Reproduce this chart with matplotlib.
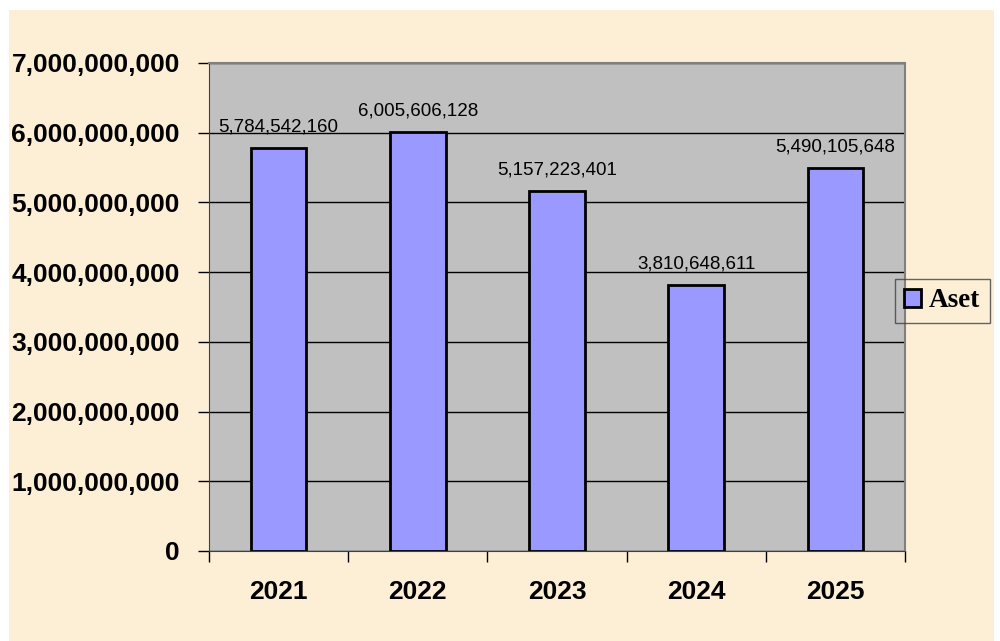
import matplotlib.pyplot as plt
from matplotlib.patches import Rectangle
from matplotlib.ticker import FuncFormatter, MultipleLocator

# data
years = ['2021', '2022', '2023', '2024', '2025']
aset = [5784542160, 6005606128, 5157223401, 3810648611, 5490105648]

fig = plt.figure(figsize=(10, 6.41), dpi=100)
fig.patch.set_facecolor('white')
# parchment background
fig.patches.append(Rectangle((0.009, 0), 0.985, 1 - 10 / 641, transform=fig.transFigure,
                             facecolor='#FCEFD6', edgecolor='none', zorder=-5))

ax = fig.add_axes([209 / 1000, 1 - 551 / 641, (905 - 209) / 1000, (551 - 63) / 641])
ax.set_facecolor('#C0C0C0')

x = range(len(years))
bars = ax.bar(x, aset, width=0.4, color='#9999FF', edgecolor='black', linewidth=2,
              label='Aset', zorder=3)

ax.set_xlim(-0.5, len(years) - 0.5)
ax.set_ylim(0, 7e9)
ax.yaxis.set_major_locator(MultipleLocator(1e9))
ax.yaxis.set_major_formatter(FuncFormatter(lambda v, p: f'{int(v):,}'))
ax.grid(axis='y', color='black', linewidth=1, zorder=1)

ax.set_xticks([i - 0.5 for i in range(len(years) + 1)])
ax.set_xticklabels([])
ax.set_xticks(list(x), minor=True)
ax.set_xticklabels(years, minor=True)
ax.tick_params(axis='x', which='major', length=8, width=1, direction='out')
ax.tick_params(axis='x', which='minor', length=0, pad=21)
ax.tick_params(axis='y', length=8, width=1, direction='out', pad=13)

for lab in ax.get_yticklabels() + ax.get_xticklabels(minor=True):
    lab.set_fontfamily('Liberation Sans')
    lab.set_fontweight('bold')
    lab.set_fontsize(19)

for sp in ['top', 'right']:
    ax.spines[sp].set_color('#808080')
    ax.spines[sp].set_linewidth(1.5)
ax.spines['left'].set_color('#404040')
ax.spines['bottom'].set_color('#404040')

for b, v in zip(bars, aset):
    ax.annotate(f'{v:,}', (b.get_x() + b.get_width() / 2, v), xytext=(0, 12),
                textcoords='offset points', ha='center', va='baseline',
                fontsize=13.5, fontfamily='Liberation Sans', zorder=4)

leg = fig.legend(loc='upper left', bbox_to_anchor=(895 / 1000, 1 - 279 / 641),
                 prop={'family': 'Liberation Serif', 'weight': 'bold', 'size': 19.5},
                 frameon=True, fancybox=False, handlelength=0.6, handleheight=0.6,
                 handletextpad=0.3, borderpad=0.35, borderaxespad=0)
leg.get_frame().set_facecolor('none')
leg.get_frame().set_edgecolor('#404040')
leg.get_frame().set_linewidth(1)

fig.savefig('out.png', dpi=100)
